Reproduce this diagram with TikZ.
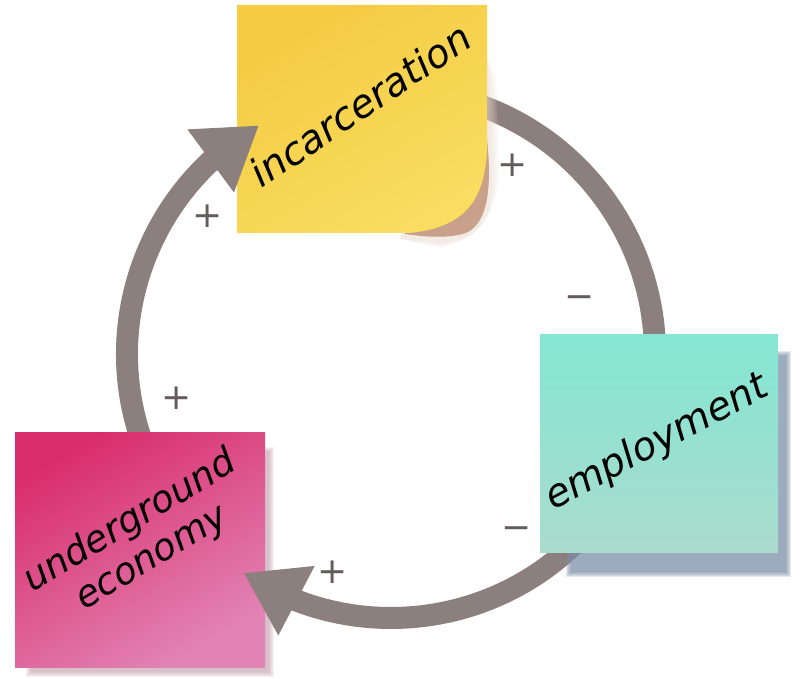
\documentclass[tikz,border=0pt]{standalone}
\usepackage{fontspec}
\setmainfont{DejaVu Sans}
\usetikzlibrary{arrows.meta,bending,calc}

\definecolor{ringgray}{HTML}{8C807E}
\definecolor{signgray}{HTML}{645C5C}
\definecolor{incyellow}{HTML}{F4CB42}
\definecolor{incyellowpale}{HTML}{F8DD60}
\definecolor{curlbrown}{HTML}{C9A089}
\definecolor{empteal}{HTML}{84E6D3}
\definecolor{emptealpale}{HTML}{AADBCD}
\definecolor{undpink}{HTML}{D92E6C}
\definecolor{undpinkpale}{HTML}{E285B6}
\definecolor{shadowblue}{HTML}{7B8DA8}
\definecolor{shadowpink}{HTML}{B88C9A}

\tikzset{
  sticky/.style={inner sep=0pt, outer sep=0pt},
  scrawl/.style={font=\fontsize{39}{42}\selectfont\itshape, align=center, inner sep=0pt},
  ring/.style={draw=ringgray, line width=22pt},
  head/.style={-{Triangle[length=60pt,width=74pt]}},
  pm/.style={text=signgray, font=\fontsize{36}{36}\selectfont, inner sep=0pt}
}

\begin{document}
\begin{tikzpicture}[x=1pt, y=1pt]
    \useasboundingbox (0,0) rectangle (808,679);

    % centre of the loop
    \coordinate (c) at (391,325);
    \def\R{264}
    \coordinate (inc-out) at ($(c)+(75:\R)$);
    \coordinate (emp-out) at ($(c)+(-45:\R)$);
    \coordinate (und-out) at ($(c)+(200:\R)$);

    % incarceration -> employment (both ends under the notes)
    \draw[ring] (inc-out) arc[start angle=75, end angle=-5, radius=\R];

    % incarceration note, curled corner
    \foreach \i in {0,...,5}
        \fill[curlbrown!40, opacity=0.12] (480-\i,660-\i*2) -- (489+\i*1.5,600) -- (492+\i*1.5,500) .. controls (492,460) and (480,440) .. (440,436-\i) -- (400,440) -- cycle;
    \fill[curlbrown] (487,540) .. controls (492,492) and (488,458) .. (468,447) .. controls (452,440) and (425,442) .. (405,445) -- (405,480) -- cycle;
    \shade[top color=incyellow, bottom color=incyellowpale, shading angle=30]
        (237,674) -- (487,674) -- (487,528) .. controls (484,478) and (465,452) .. (410,446) -- (237,446) -- cycle;
    \node[sticky, minimum width=250pt, minimum height=228pt] (incnote) at (362,560) {};
    \node[scrawl, rotate=34] (inctext) at (360,574) {incarceration};

    % underground economy -> incarceration
    \draw[ring, head] (und-out) arc[start angle=200, end angle=120, radius=\R];

    % underground economy note
    \foreach \i in {0,...,5}
        \fill[shadowpink, opacity=0.12] (26+\i,2+\i) rectangle (274-\i,232-\i);
    \node[sticky, minimum width=250pt, minimum height=235pt, top color=undpink, bottom color=undpinkpale, shading angle=30] (undnote) at (140,128.5) {};
    \node[scrawl, rotate=31, font=\fontsize{37}{42}\selectfont\itshape] (undtext) at (141,139) {underground\\economy};

    % employment -> underground economy
    \draw[ring, head] (emp-out) arc[start angle=-45, end angle=-124, radius=\R];

    % employment note
    \foreach \i in {0,...,5}
        \fill[shadowblue, opacity=0.2] (566+\i,102+\i) rectangle (791-\i,328-\i);
    \node[sticky, minimum width=238pt, minimum height=218pt, top color=empteal, bottom color=emptealpale] (empnote) at (659,235) {};
    \node[scrawl, rotate=28] (emptext) at (657,236) {employment};

    % polarity signs
    \node[pm] (inc-emp-a) at (513,514) {+};
    \node[pm] (inc-emp-b) at (580,377) {−};
    \node[pm] (emp-und-a) at (517,146) {−};
    \node[pm] (emp-und-b) at (333,107) {+};
    \node[pm] (und-inc-a) at (177,281) {+};
    \node[pm] (und-inc-b) at (208,463) {+};
\end{tikzpicture}
\end{document}
